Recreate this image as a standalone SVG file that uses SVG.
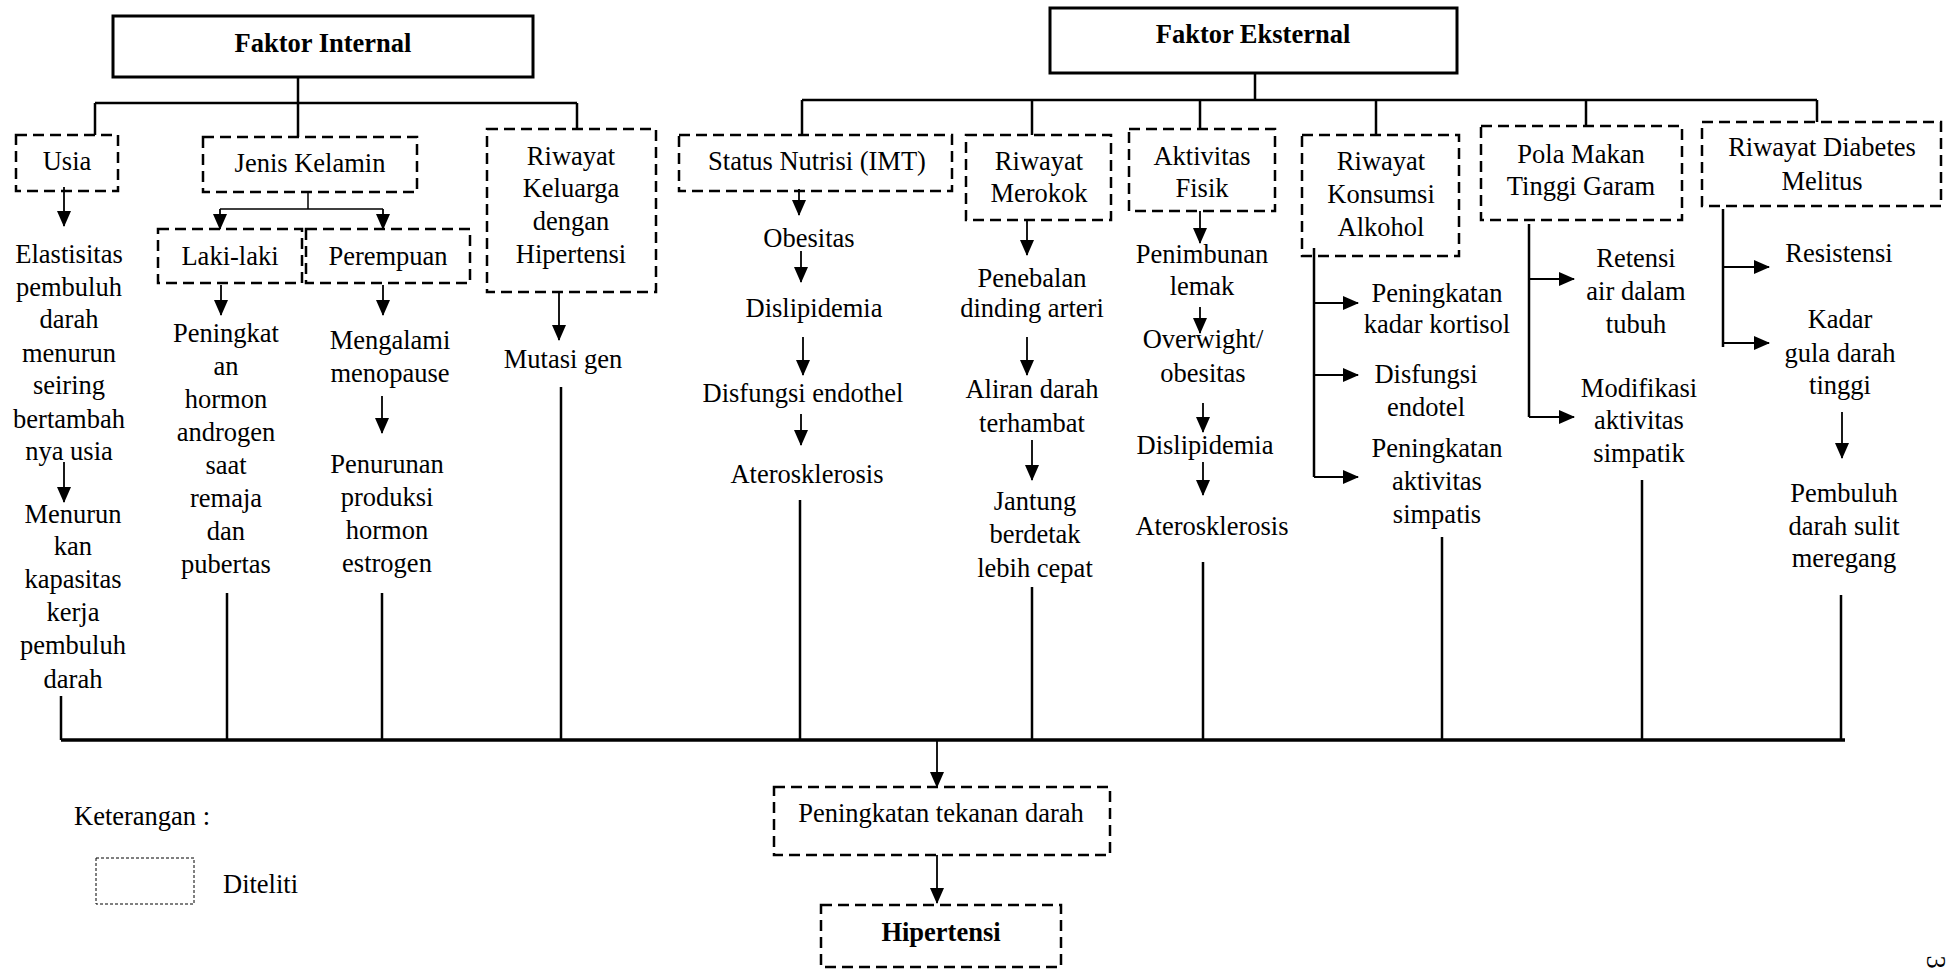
<svg xmlns="http://www.w3.org/2000/svg" width="1949" height="970" viewBox="0 0 1949 970" font-family="Liberation Serif, Times New Roman, serif">
<defs>
<marker id="ah" markerUnits="userSpaceOnUse" markerWidth="16" markerHeight="14" refX="15" refY="7" orient="auto">
<path d="M0,0 L16,7 L0,14 z" fill="#000"/>
</marker>
</defs>
<style>
text{font-family:"Liberation Serif",serif}
.t{font-size:26.5px;fill:#000;text-anchor:middle}
.b{font-weight:bold}
.l{text-anchor:start}
.box{fill:none;stroke:#000;stroke-width:2.5;stroke-dasharray:11 6}
.solid{fill:none;stroke:#000;stroke-width:3}
.ln{stroke:#000;stroke-width:2.5;fill:none}
.thin{stroke:#000;stroke-width:1.5;fill:none}
.ar{stroke:#000;stroke-width:1.8;fill:none;marker-end:url(#ah)}
.legend{fill:none;stroke:#000;stroke-width:1;stroke-dasharray:3 2}
</style>
<rect width="1949" height="970" fill="#fff"/>

<g id="connectors">
<path class="ln" d="M298,77 V103 M95,103 H577 M95,103 V135 M298,103 V137 M577,103 V129"/>
<path class="ln" d="M1255,73 V100 M802,100 H1817 M802,100 V135 M1032,100 V135 M1200,100 V129 M1376,100 V135 M1586,100 V126 M1817,100 V122"/>
<path class="thin" d="M308,192 V209 M220,209 H383"/>
<path class="ar" d="M220,209 V229"/>
<path class="ar" d="M383,209 V229"/>
<path class="ar" d="M64,187 V226"/>
<path class="ar" d="M64,462 V502"/>
<path class="ar" d="M221,285 V315"/>
<path class="ar" d="M383,285 V315"/>
<path class="ar" d="M382,396 V433"/>
<path class="ar" d="M559,292 V340"/>
<path class="ar" d="M799,189 V215"/>
<path class="ar" d="M801,251 V282"/>
<path class="ar" d="M803,337 V375"/>
<path class="ar" d="M801,414 V445"/>
<path class="ar" d="M1027,220 V255"/>
<path class="ar" d="M1027,337 V375"/>
<path class="ar" d="M1032,440 V480"/>
<path class="ar" d="M1200,211 V243"/>
<path class="ar" d="M1200,307 V333"/>
<path class="ar" d="M1203,403 V432"/>
<path class="ar" d="M1203,462 V495"/>
<path class="ln" d="M1314,248 V477 M1529,224 V417 M1723,209 V347"/>
<path class="ar" d="M1314,303 H1358"/>
<path class="ar" d="M1314,375 H1358"/>
<path class="ar" d="M1314,477 H1358"/>
<path class="ar" d="M1529,279 H1574"/>
<path class="ar" d="M1529,417 H1574"/>
<path class="ar" d="M1723,267 H1769"/>
<path class="ar" d="M1723,343 H1769"/>
<path class="ar" d="M1842,412 V458"/>
<path class="ln" d="M61,696 V740 M227,593 V740 M382,593 V740 M561,387 V740 M800,500 V740 M1032,587 V740 M1203,562 V740 M1442,537 V740 M1642,480 V740 M1841,595 V740"/>
<path d="M61,740 H1845" stroke="#000" stroke-width="3.5" fill="none"/>
<path class="ar" d="M937,740 V787"/>
<path class="ar" d="M937,855 V903"/>
</g>

<g id="faktor-internal">
<rect class="solid" x="113" y="16" width="420" height="61"/>
<text class="t b" x="323" y="52">Faktor Internal</text>
</g>
<g id="faktor-eksternal">
<rect class="solid" x="1050" y="8" width="407" height="65"/>
<text class="t b" x="1253" y="43">Faktor Eksternal</text>
</g>

<g id="usia">
<rect class="box" x="16" y="135" width="102" height="56"/>
<text class="t" x="67" y="170">Usia</text>
</g>
<g id="usia-1">
<text class="t"><tspan x="69" y="263">Elastisitas</tspan><tspan x="69" y="296">pembuluh</tspan><tspan x="69" y="328">darah</tspan><tspan x="69" y="362">menurun</tspan><tspan x="69" y="394">seiring</tspan><tspan x="69" y="428">bertambah</tspan><tspan x="69" y="460">nya usia</tspan></text>
</g>
<g id="usia-2">
<text class="t"><tspan x="73" y="523">Menurun</tspan><tspan x="73" y="555">kan</tspan><tspan x="73" y="588">kapasitas</tspan><tspan x="73" y="621">kerja</tspan><tspan x="73" y="654">pembuluh</tspan><tspan x="73" y="688">darah</tspan></text>
</g>

<g id="jenis-kelamin">
<rect class="box" x="203" y="137" width="214" height="55"/>
<text class="t" x="310" y="172">Jenis Kelamin</text>
</g>
<g id="laki-laki">
<rect class="box" x="158" y="229" width="144" height="54"/>
<text class="t" x="230" y="265">Laki-laki</text>
</g>
<g id="perempuan">
<rect class="box" x="306" y="229" width="164" height="54"/>
<text class="t" x="388" y="265">Perempuan</text>
</g>
<g id="laki-1">
<text class="t"><tspan x="226" y="342">Peningkat</tspan><tspan x="226" y="375">an</tspan><tspan x="226" y="408">hormon</tspan><tspan x="226" y="441">androgen</tspan><tspan x="226" y="474">saat</tspan><tspan x="226" y="507">remaja</tspan><tspan x="226" y="540">dan</tspan><tspan x="226" y="573">pubertas</tspan></text>
</g>
<g id="perempuan-1">
<text class="t"><tspan x="390" y="349">Mengalami</tspan><tspan x="390" y="382">menopause</tspan></text>
</g>
<g id="perempuan-2">
<text class="t"><tspan x="387" y="473">Penurunan</tspan><tspan x="387" y="506">produksi</tspan><tspan x="387" y="539">hormon</tspan><tspan x="387" y="572">estrogen</tspan></text>
</g>

<g id="riwayat-keluarga">
<rect class="box" x="487" y="129" width="169" height="163"/>
<text class="t"><tspan x="571" y="165">Riwayat</tspan><tspan x="571" y="197">Keluarga</tspan><tspan x="571" y="230">dengan</tspan><tspan x="571" y="263">Hipertensi</tspan></text>
</g>
<g id="keluarga-1">
<text class="t" x="563" y="368">Mutasi gen</text>
</g>

<g id="status-nutrisi">
<rect class="box" x="679" y="135" width="273" height="56"/>
<text class="t" x="817" y="170">Status Nutrisi (IMT)</text>
</g>
<g id="nutrisi-1"><text class="t" x="809" y="247">Obesitas</text></g>
<g id="nutrisi-2"><text class="t" x="814" y="317">Dislipidemia</text></g>
<g id="nutrisi-3"><text class="t" x="803" y="402">Disfungsi endothel</text></g>
<g id="nutrisi-4"><text class="t" x="807" y="483">Aterosklerosis</text></g>

<g id="riwayat-merokok">
<rect class="box" x="966" y="135" width="145" height="85"/>
<text class="t"><tspan x="1039" y="170">Riwayat</tspan><tspan x="1039" y="202">Merokok</tspan></text>
</g>
<g id="merokok-1"><text class="t"><tspan x="1032" y="287">Penebalan</tspan><tspan x="1032" y="317">dinding arteri</tspan></text></g>
<g id="merokok-2"><text class="t"><tspan x="1032" y="398">Aliran darah</tspan><tspan x="1032" y="432">terhambat</tspan></text></g>
<g id="merokok-3"><text class="t"><tspan x="1035" y="510">Jantung</tspan><tspan x="1035" y="543">berdetak</tspan><tspan x="1035" y="577">lebih cepat</tspan></text></g>

<g id="aktivitas-fisik">
<rect class="box" x="1129" y="129" width="146" height="82"/>
<text class="t"><tspan x="1202" y="165">Aktivitas</tspan><tspan x="1202" y="197">Fisik</tspan></text>
</g>
<g id="aktivitas-1"><text class="t"><tspan x="1202" y="263">Penimbunan</tspan><tspan x="1202" y="295">lemak</tspan></text></g>
<g id="aktivitas-2"><text class="t"><tspan x="1203" y="348">Overwight/</tspan><tspan x="1203" y="382">obesitas</tspan></text></g>
<g id="aktivitas-3"><text class="t" x="1205" y="454">Dislipidemia</text></g>
<g id="aktivitas-4"><text class="t" x="1212" y="535">Aterosklerosis</text></g>

<g id="riwayat-alkohol">
<rect class="box" x="1302" y="135" width="157" height="121"/>
<text class="t"><tspan x="1381" y="170">Riwayat</tspan><tspan x="1381" y="203">Konsumsi</tspan><tspan x="1381" y="236">Alkohol</tspan></text>
</g>
<g id="alkohol-1"><text class="t"><tspan x="1437" y="302">Peningkatan</tspan><tspan x="1437" y="333">kadar kortisol</tspan></text></g>
<g id="alkohol-2"><text class="t"><tspan x="1426" y="383">Disfungsi</tspan><tspan x="1426" y="416">endotel</tspan></text></g>
<g id="alkohol-3"><text class="t"><tspan x="1437" y="457">Peningkatan</tspan><tspan x="1437" y="490">aktivitas</tspan><tspan x="1437" y="523">simpatis</tspan></text></g>

<g id="pola-makan">
<rect class="box" x="1481" y="126" width="201" height="94"/>
<text class="t"><tspan x="1581" y="163">Pola Makan</tspan><tspan x="1581" y="195">Tinggi Garam</tspan></text>
</g>
<g id="pola-1"><text class="t"><tspan x="1636" y="267">Retensi</tspan><tspan x="1636" y="300">air dalam</tspan><tspan x="1636" y="333">tubuh</tspan></text></g>
<g id="pola-2"><text class="t"><tspan x="1639" y="397">Modifikasi</tspan><tspan x="1639" y="429">aktivitas</tspan><tspan x="1639" y="462">simpatik</tspan></text></g>

<g id="riwayat-diabetes">
<rect class="box" x="1702" y="122" width="239" height="84"/>
<text class="t"><tspan x="1822" y="156">Riwayat Diabetes</tspan><tspan x="1822" y="190">Melitus</tspan></text>
</g>
<g id="diabetes-1"><text class="t" x="1839" y="262">Resistensi</text></g>
<g id="diabetes-2"><text class="t"><tspan x="1840" y="328">Kadar</tspan><tspan x="1840" y="362">gula darah</tspan><tspan x="1840" y="394">tinggi</tspan></text></g>
<g id="diabetes-3"><text class="t"><tspan x="1844" y="502">Pembuluh</tspan><tspan x="1844" y="535">darah sulit</tspan><tspan x="1844" y="567">meregang</tspan></text></g>

<g id="peningkatan-tekanan">
<rect class="box" x="774" y="787" width="336" height="68"/>
<text class="t" x="941" y="822">Peningkatan tekanan darah</text>
</g>
<g id="hipertensi">
<rect class="box" x="821" y="905" width="240" height="62"/>
<text class="t b" x="941" y="941">Hipertensi</text>
</g>

<g id="legend">
<text class="t l" x="74" y="825">Keterangan :</text>
<rect class="legend" x="96" y="858" width="98" height="46"/>
<text class="t l" x="223" y="893">Diteliti</text>
</g>
<g id="page-number">
<text class="t" transform="translate(1927,962) rotate(90)" x="0" y="0">3</text>
</g>
</svg>
